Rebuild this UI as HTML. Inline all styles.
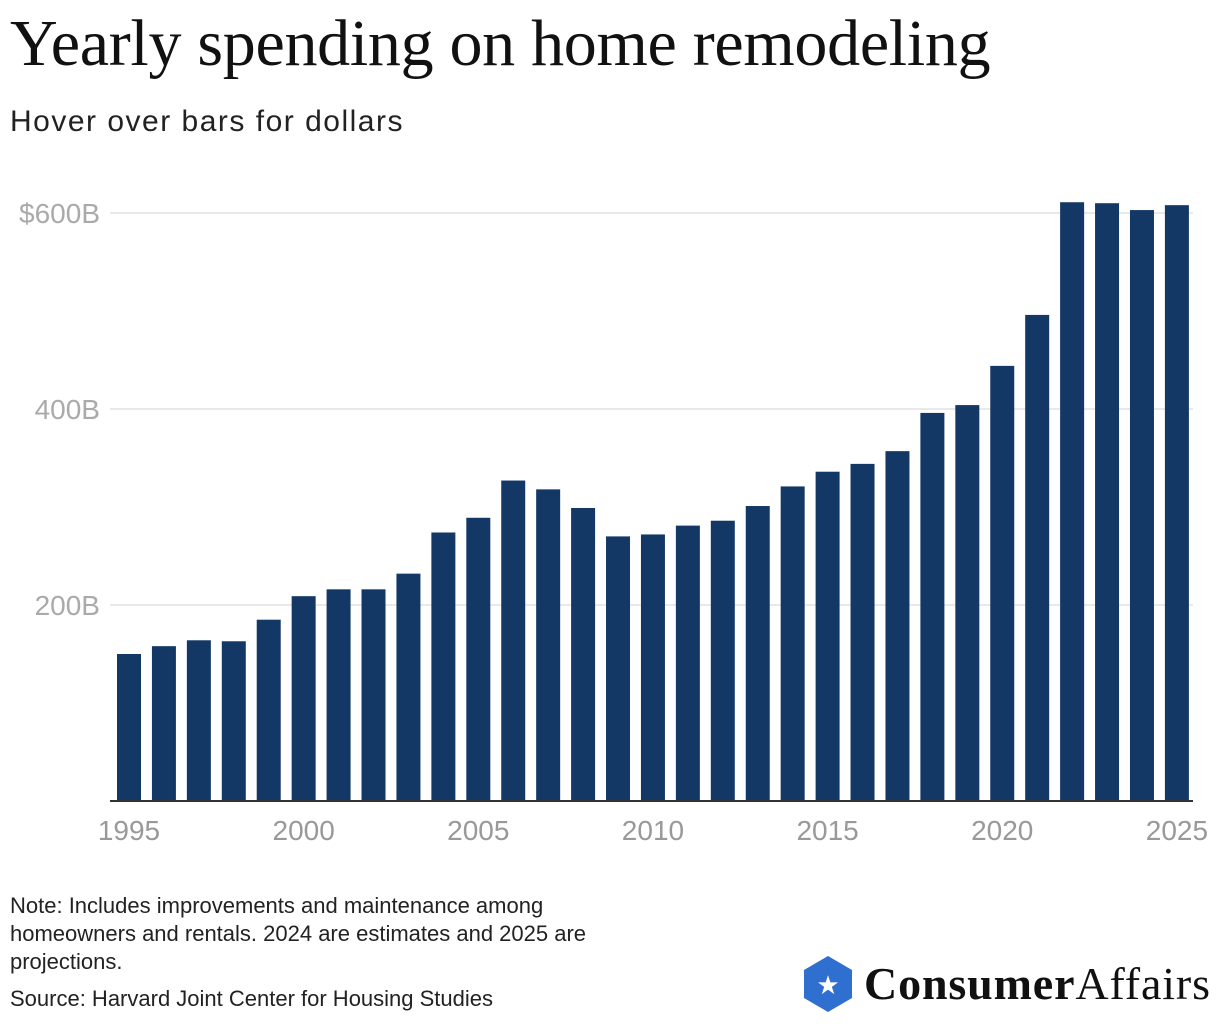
<!DOCTYPE html>
<html><head><meta charset="utf-8"><style>
body{margin:0;width:1220px;height:1024px;background:#fff;font-family:"Liberation Sans",sans-serif;position:relative;overflow:hidden}
.t{position:absolute;margin:0}
</style></head><body>
<h1 class="t" style="left:10px;top:6px;font-family:'Liberation Serif',serif;font-size:66px;font-weight:normal;letter-spacing:-0.3px;color:#111">Yearly spending on home remodeling</h1>
<div class="t" style="left:10px;top:105px;font-size:30px;letter-spacing:1.5px;color:#222">Hover over bars for dollars</div>
<svg id="chart" width="1220" height="870" style="position:absolute;left:0;top:0"></svg>
<div class="t" style="left:10px;top:892px;font-size:22px;line-height:28px;color:#222;width:640px">Note: Includes improvements and maintenance among homeowners and rentals. 2024 are estimates and 2025 are projections.</div>
<div class="t" style="left:10px;top:986px;font-size:22px;color:#222">Source: Harvard Joint Center for Housing Studies</div>
<svg width="420" height="64" style="position:absolute;left:800px;top:954px">
<polygon points="28,2 52,16 52,44 28,58 4,44 4,16" fill="#2e6fd0"/>
<text x="28" y="40" text-anchor="middle" font-size="26" fill="#fff">★</text>
<text x="64" y="45" font-family="Liberation Serif,serif" font-size="46" font-weight="bold" fill="#111" letter-spacing="-1" textLength="345">Consumer<tspan font-weight="normal">Affairs</tspan></text>
</svg>
<script>
const years=[];for(let y=1995;y<=2025;y++)years.push(y);
const values=[150,158,164,163,185,209,216,216,232,274,289,327,318,299,270,272,281,286,301,321,336,344,357,396,404,444,496,611,610,603,608];
const yTicks=[200,400,600];
const yTickLabels=["200B","400B","$600B"];
const xTicks=[1995,2000,2005,2010,2015,2020,2025];
const svg=document.getElementById('chart');const NS='http://www.w3.org/2000/svg';
const y0=801,pxPer=0.98,band=34.93,x0=117,bw=24;
const yS=v=>y0-v*pxPer;const xS=i=>x0+i*band;
function mk(t,a){const e=document.createElementNS(NS,t);for(const k in a)e.setAttribute(k,a[k]);svg.appendChild(e);return e;}
yTicks.forEach((v,i)=>{
const g=mk('line',{x1:110,x2:1193,y1:yS(v),y2:yS(v),stroke:'#e2e2e2','stroke-width':1.5});


const t=mk('text',{x:100,y:yS(v)+10,'text-anchor':'end','font-size':28,fill:'#aaa'});
t.textContent=yTickLabels[i];


});
values.forEach((v,i)=>{
const r=mk('rect',{x:xS(i),y:yS(v),width:bw,height:y0-yS(v),fill:'#143866'});


});
const ax=mk('line',{x1:110,x2:1193,y1:y0,y2:y0,stroke:'#333','stroke-width':2});


xTicks.forEach(yr=>{
const i=years.indexOf(yr);
const t=mk('text',{x:xS(i)+bw/2,y:840,'text-anchor':'middle','font-size':28,fill:'#999'});
t.textContent=yr;


});
</script>
</body></html>
